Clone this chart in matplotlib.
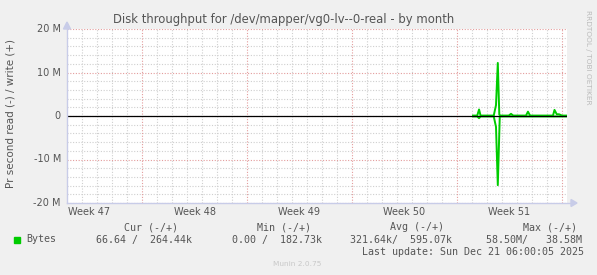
import matplotlib
matplotlib.use("Agg")
import matplotlib.pyplot as plt
import numpy as np

# ---- data (x in days from left edge of plot, values in bytes/s) ----
week_labels = ["Week 47", "Week 48", "Week 49", "Week 50", "Week 51"]
week_label_days = [1.5, 8.5, 15.5, 22.5, 29.5]
week_boundaries = [5, 12, 19, 26, 33]

t_write = [27.07, 27.35, 27.47, 27.57, 28.45, 28.6, 28.72, 28.82, 28.9, 29.45, 29.6, 29.75,
           30.6, 30.73, 30.87, 32.4, 32.5, 32.65, 32.8, 33.0, 33.3]
v_write = [0.1e6, 0.1e6, 1.5e6, 0.1e6, 0.1e6, 2.5e6, 12.2e6, 0.3e6, 0.1e6, 0.1e6, 0.5e6, 0.1e6,
           0.1e6, 1.0e6, 0.1e6, 0.1e6, 1.4e6, 0.4e6, 0.4e6, 0.1e6, 0.1e6]

t_read = [27.07, 27.35, 27.47, 27.57, 28.45, 28.6, 28.72, 28.85, 28.95, 33.3]
v_read = [-0.1e6, -0.1e6, -0.5e6, -0.1e6, -0.1e6, -2.5e6, -15.9e6, -0.2e6, -0.1e6, -0.1e6]

yticks = [-20e6, -10e6, 0, 10e6, 20e6]
ytick_labels = ["-20 M", "-10 M", "0", "10 M", "20 M"]

legend_header = ["Cur (-/+)", "Min (-/+)", "Avg (-/+)", "Max (-/+)"]
legend_values = ["66.64 /  264.44k", "0.00 /  182.73k", "321.64k/  595.07k", "58.50M/   38.58M"]
series_name = "Bytes"
last_update = "Last update: Sun Dec 21 06:00:05 2025"

W, H = 597, 275
fig = plt.figure(figsize=(W / 100, H / 100), dpi=100, facecolor="#F0F0F0")

x0, x1, ytop, ybot = 67, 567, 29, 203
ax = fig.add_axes([x0 / W, 1 - ybot / H, (x1 - x0) / W, (ybot - ytop) / H])
ax.set_facecolor("white")
xmax = (x1 - x0) / 15.0
ax.set_xlim(0, xmax)
ax.set_ylim(-20e6, 20e6)

# grid
mincol = "#CFCFCF"
majcol = "#E39C9C"
for d in np.arange(1, xmax, 1.0):
    if not any(abs(d - b) < 1e-6 for b in week_boundaries):
        ax.axvline(d, color=mincol, lw=0.8, ls=(0, (1, 1.5)), zorder=1)
for yv in np.arange(-18e6, 20e6, 2e6):
    if abs(yv) % 10e6 > 1:
        ax.axhline(yv, color=mincol, lw=0.8, ls=(0, (1, 1.5)), zorder=1)
for b in week_boundaries:
    ax.axvline(b, color=majcol, lw=0.8, ls=(0, (1, 1.5)), zorder=1)
for yv in yticks:
    ax.axhline(yv, color=majcol, lw=0.8, ls=(0, (1, 1.5)), zorder=1)

# data
ax.plot(t_write, v_write, color="#00CC00", lw=1.4, zorder=3)
ax.plot(t_read, v_read, color="#00CC00", lw=1.4, zorder=3)
ax.axhline(0, color="black", lw=0.9, zorder=4)

for s in ax.spines.values():
    s.set_visible(False)
ax.set_xticks([])
ax.set_yticks([])

# axes lines with arrows (figure pixel coords)
def fx(px):
    return px / W
def fy(py):
    return 1 - py / H
axcol = "#C8CCE8"
fig.add_artist(plt.Line2D([fx(x0), fx(572)], [fy(ybot), fy(ybot)], color=axcol, lw=1))
fig.add_artist(plt.Line2D([fx(x0), fx(x0)], [fy(ybot), fy(24)], color=axcol, lw=1))
fig.add_artist(plt.Polygon([[fx(571), fy(ybot - 3.5)], [fx(571), fy(ybot + 3.5)], [fx(577), fy(ybot)]],
                           closed=True, color=axcol))
fig.add_artist(plt.Polygon([[fx(x0 - 3.5), fy(29)], [fx(x0 + 3.5), fy(29)], [fx(x0), fy(22)]],
                           closed=True, color=axcol))

txtcol = "#555555"
fs = 7.0
# y tick labels
for v, lab in zip(yticks, ytick_labels):
    ypx = ytop + (20e6 - v) / 40e6 * (ybot - ytop)
    fig.text(fx(61), fy(ypx), lab, ha="right", va="center", fontsize=fs, color=txtcol)
# x week labels
for d, lab in zip(week_label_days, week_labels):
    fig.text(fx(x0 + d * 15), fy(212), lab, ha="center", va="center", fontsize=fs, color=txtcol)

fig.text(fx(284), fy(19), "Disk throughput for /dev/mapper/vg0-lv--0-real - by month",
         ha="center", va="center", fontsize=8.4, color=txtcol)
fig.text(fx(11), fy(114), "Pr second read (-) / write (+)", rotation=90,
         ha="center", va="center", fontsize=7.5, color=txtcol)
fig.text(fx(588), fy(57), "RRDTOOL / TOBI OETIKER", rotation=270,
         ha="center", va="center", fontsize=5.3, color="#BBBBBB")

mono = "DejaVu Sans Mono"
mfs = 7.2
header_x = [124, 257, 390, 523]
value_x = [96, 232, 350, 486]
for hx, h in zip(header_x, legend_header):
    fig.text(fx(hx), fy(227.5), h, ha="left", va="center", fontsize=mfs, family=mono, color=txtcol)
fig.add_artist(plt.Rectangle((fx(14), fy(242.5)), 6 / W, 6 / H, color="#00CC00"))
fig.text(fx(26), fy(239.5), series_name, ha="left", va="center", fontsize=mfs, family=mono, color=txtcol)
for vx, v in zip(value_x, legend_values):
    fig.text(fx(vx), fy(239.5), v, ha="left", va="center", fontsize=mfs, family=mono, color=txtcol)
fig.text(fx(362), fy(251.7), last_update, ha="left", va="center", fontsize=mfs, family=mono, color=txtcol)
fig.text(fx(273), fy(264), "Munin 2.0.75", ha="left", va="center", fontsize=5.3, color="#C8C8C8")

fig.savefig("out.png", dpi=100, facecolor=fig.get_facecolor())
